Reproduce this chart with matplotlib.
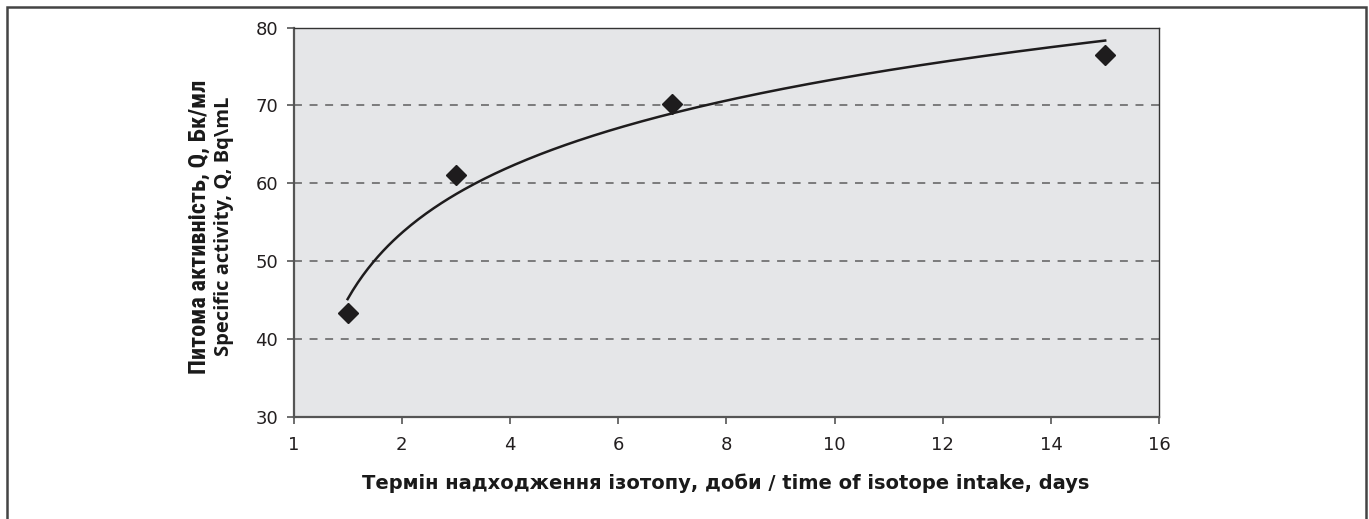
import matplotlib
matplotlib.use("Agg")
import matplotlib.pyplot as plt
import numpy as np
from matplotlib.patches import Rectangle

# values
days = np.array([1, 3, 7, 15])
activity = np.array([43.3, 61.1, 70.15, 76.5])
x_ticks = np.arange(0, 17, 2)
x_tick_labels = ['1', '2', '4', '6', '8', '10', '12', '14', '16']
y_ticks = np.arange(30, 81, 10)

xlabel = 'Термін надходження ізотопу, доби / time of isotope intake, days'
ylabel_ua = 'Питома активність, Q, Бк/мл'
ylabel_en = 'Specific activity, Q, Bq\\mL'

# logarithmic trend line fitted to the points
coef = np.polyfit(np.log(days), activity, 1)
t = np.linspace(days.min(), days.max(), 300)
trend = coef[0] * np.log(t) + coef[1]

W, H = 1369, 519
fig = plt.figure(figsize=(W / 100, H / 100), dpi=100)
ax = fig.add_axes([293.5 / W, 1 - 416.7 / H, (1159.3 - 293.5) / W, (416.7 - 27.7) / H])
ax.set_facecolor('#e5e6e8')

ax.plot(t, trend, color='#1e1c1d', lw=1.8, zorder=3)
ax.plot(days, activity, 'D', color='#1e1c1d', ms=10.5, zorder=4)

ax.set_xlim(0, 16)
ax.set_ylim(30, 80)
ax.set_xticks(x_ticks)
ax.set_xticklabels(x_tick_labels)
ax.set_yticks(y_ticks)

ax.yaxis.grid(True, color='#5e5e5e', lw=1.1, linestyle=(0, (5.2, 5.0)))
ax.set_axisbelow(True)

for s in ['top', 'right']:
    ax.spines[s].set_color('#333333')
    ax.spines[s].set_linewidth(1.0)
for s in ['left', 'bottom']:
    ax.spines[s].set_color('#555555')
    ax.spines[s].set_linewidth(1.6)

ax.tick_params(direction='out', length=5, width=1.2, color='#555555',
               labelsize=13, labelcolor='#231f20')
ax.tick_params(axis='y', pad=6)
ax.tick_params(axis='x', pad=9)

fig.text(726 / W, 1 - 483 / H, xlabel, ha='center', va='center', fontsize=14,
         fontweight='bold', family=['DejaVu Sans'], color='#1a1a1a')
fig.text(199 / W, 1 - 226.5 / H, ylabel_ua, ha='center', va='center', rotation=90,
         fontsize=17.5, fontweight='bold', family=['Roboto Condensed', 'DejaVu Sans'],
         color='#1a1a1a')
fig.text(224 / W, 1 - 226.5 / H, ylabel_en, ha='center', va='center', rotation=90,
         fontsize=14.5, fontweight='bold', family=['Open Sans', 'DejaVu Sans'],
         color='#1a1a1a')

# outer frame of the figure panel
fig.patches.append(Rectangle((7 / W, -0.05), (1366 - 7) / W, 1.05 - 7 / H,
                             transform=fig.transFigure, fill=False,
                             edgecolor='#444444', lw=1.8))

fig.savefig('out.png', dpi=100)
